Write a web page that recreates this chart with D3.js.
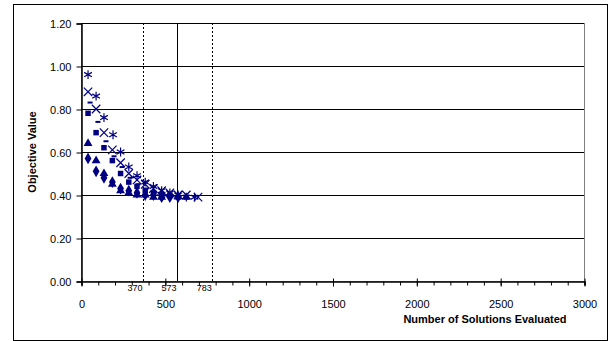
<!DOCTYPE html>
<html>
<head>
<meta charset="utf-8">
<script src="https://cdn.jsdelivr.net/npm/d3@7"></script>
<style>
  body { margin: 0; background: #fff; }
  svg text { font-family: "Liberation Sans", Arial, sans-serif; }
</style>
</head>
<body>
<svg id="chart" width="608" height="341"></svg>
<script>
// --- data ---
const yTicks = [0, 0.2, 0.4, 0.6, 0.8, 1.0, 1.2];
const xTicks = [0, 500, 1000, 1500, 2000, 2500, 3000];
const refLines = [370, 573, 783];      // min / mean / max
const refStyle = ["dotted", "solid", "dotted"];

// each series: [solutions evaluated, objective value]
const diamonds = [[42,0.57],[90,0.51],[137,0.48],[187,0.46],[236,0.43],[285,0.42],[334,0.41],[383,0.40],[432,0.40],[481,0.39],[530,0.39],[579,0.39]];
const squares  = [[42,0.78],[90,0.69],[137,0.62],[187,0.56],[236,0.50],[285,0.46],[334,0.44],[383,0.42],[432,0.41],[481,0.40],[530,0.40],[579,0.39],[628,0.39]];
const triangles = [[42,0.64],[90,0.56],[137,0.50],[187,0.45],[236,0.42],[285,0.41],[334,0.40],[383,0.40],[432,0.39],[481,0.39]];
const crosses  = [[42,0.88],[90,0.80],[137,0.69],[187,0.61],[236,0.55],[285,0.50],[334,0.47],[383,0.45],[432,0.43],[481,0.42],[530,0.41],[579,0.40],[628,0.40],[698,0.39]];
const stars    = [[42,0.96],[90,0.86],[137,0.76],[191,0.68],[236,0.60],[285,0.53],[334,0.49],[383,0.46],[432,0.44],[481,0.42],[530,0.41],[579,0.40],[628,0.39],[677,0.39]];
const dashes   = [[54,0.83],[101,0.74],[149,0.65],[197,0.58],[245,0.53],[293,0.48],[341,0.45],[389,0.43],[437,0.41],[485,0.40],[533,0.40],[581,0.39]];

const navy = "#000080";
const svg = d3.select("#chart");

// outer chart border
svg.append("rect")
  .attr("x", 13.5).attr("y", 4.5)
  .attr("width", 594).attr("height", 336)
  .attr("fill", "none").attr("stroke", "#000");

const plot = { left: 81, right: 584, top: 23, bottom: 281 };

const x = d3.scaleLinear().domain([0, 3000]).range([plot.left, plot.right]);
const y = d3.scaleLinear().domain([0, 1.2]).range([plot.bottom, plot.top]);

// plot area border (grey top/right)
svg.append("rect")
  .attr("x", plot.left + 0.5).attr("y", plot.top + 0.5)
  .attr("width", plot.right - plot.left).attr("height", plot.bottom - plot.top)
  .attr("fill", "none").attr("stroke", "#808080");

// horizontal gridlines
svg.append("g")
  .selectAll("line")
  .data(yTicks.filter(d => d > 0))
  .enter()
  .append("line")
    .attr("x1", plot.left).attr("x2", plot.right)
    .attr("y1", d => Math.round(y(d)) + 0.5)
    .attr("y2", d => Math.round(y(d)) + 0.5)
    .attr("stroke", "#000");

// reference lines
svg.append("g")
  .selectAll("line")
  .data(refLines)
  .enter()
  .append("line")
    .attr("x1", d => Math.round(x(d)) + 0.5)
    .attr("x2", d => Math.round(x(d)) + 0.5)
    .attr("y1", plot.top).attr("y2", plot.bottom)
    .attr("stroke", "#000")
    .attr("stroke-dasharray", (d, i) => refStyle[i] === "dotted" ? "2,2" : null);

svg.append("g")
  .selectAll("text")
  .data(refLines)
  .enter()
  .append("text")
    .attr("x", d => x(d) - 8)
    .attr("y", 291)
    .attr("text-anchor", "middle")
    .attr("font-size", 9)
    .text(d => d);

// y axis
const yAxis = d3.axisLeft(y).tickValues(yTicks).tickSize(5).tickFormat(d3.format(".2f"));
const gy = svg.append("g")
  .attr("transform", `translate(${plot.left + 0.5},0.5)`)
  .call(yAxis);
gy.selectAll("text").attr("font-size", 11).attr("font-family", "Liberation Sans, Arial").attr("fill", "#000").attr("x", -10);
gy.select(".domain").attr("stroke", "#000").attr("stroke-width", 1.5);

// x axis with minor ticks
const gx = svg.append("g")
  .attr("transform", `translate(0.5,${plot.bottom + 0.5})`)
  .call(d3.axisBottom(x).tickValues(d3.range(0, 3001, 100)).tickSize(4).tickFormat(""));
gx.select(".domain").attr("stroke", "#000").attr("stroke-width", 1.5);
gx.selectAll(".tick line").attr("stroke", "#000");

const gx2 = svg.append("g")
  .attr("transform", `translate(0.5,${plot.bottom + 0.5})`)
  .call(d3.axisBottom(x).tickValues(xTicks).tickSize(5).tickPadding(14).tickFormat(d3.format("d")));
gx2.select(".domain").remove();
gx2.selectAll(".tick line").attr("y1", -3);
gx2.selectAll("text").attr("font-size", 11).attr("font-family", "Liberation Sans, Arial").attr("fill", "#000");

// axis titles
svg.append("text")
  .attr("transform", `translate(36,${(plot.top + plot.bottom) / 2}) rotate(-90)`)
  .attr("text-anchor", "middle")
  .attr("font-size", 11)
  .attr("font-weight", "bold")
  .text("Objective Value");

svg.append("text")
  .attr("x", 485).attr("y", 323)
  .attr("text-anchor", "middle")
  .attr("font-size", 11)
  .attr("font-weight", "bold")
  .text("Number of Solutions Evaluated");

// series markers
const series = [
  { data: diamonds,  type: d3.symbolDiamond,  size: 40, fill: true },
  { data: squares,   type: d3.symbolSquare,   size: 30, fill: true },
  { data: triangles, type: d3.symbolTriangle, size: 34, fill: true },
  { data: crosses,   type: d3.symbolTimes,    size: 48, fill: false },
  { data: stars,     type: d3.symbolAsterisk, size: 55, fill: false },
  { data: dashes,    type: null,              size: 0,  fill: true }
];

series.forEach(s => {
  const g = svg.append("g");
  if (s.type) {
    g.selectAll("path")
      .data(s.data)
      .enter()
      .append("path")
        .attr("transform", d => `translate(${x(d[0])},${y(d[1])})`)
        .attr("d", d3.symbol().type(s.type).size(s.size))
        .attr("fill", s.fill ? navy : "none")
        .attr("stroke", s.fill ? "none" : navy)
        .attr("stroke-width", 1.2);
  } else {
    g.selectAll("rect")
      .data(s.data)
      .enter()
      .append("rect")
        .attr("x", d => x(d[0]) - 2.5)
        .attr("y", d => y(d[1]) - 1)
        .attr("width", 5).attr("height", 2)
        .attr("fill", navy);
  }
});
</script>
</body>
</html>
